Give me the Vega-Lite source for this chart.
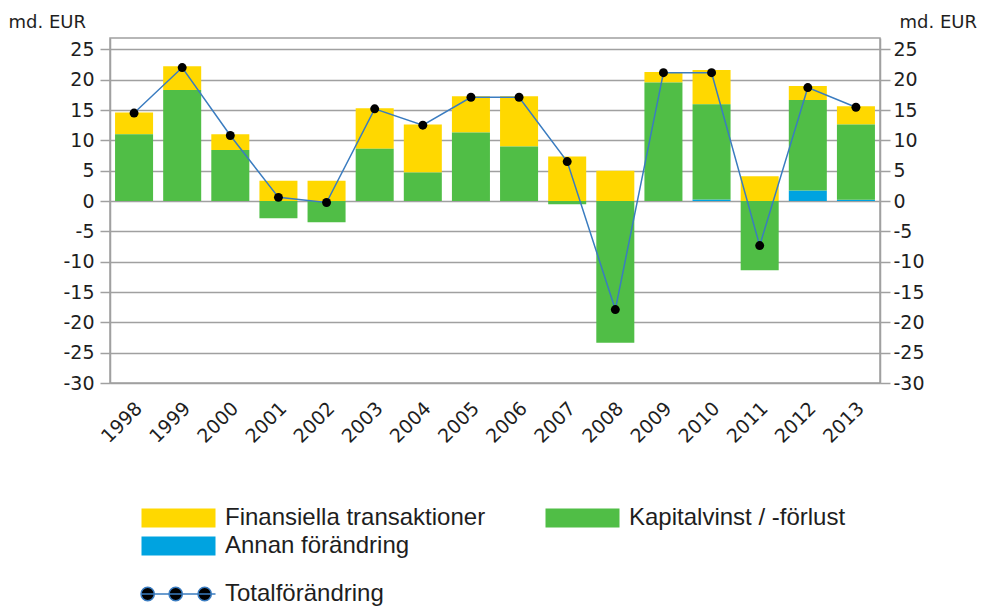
{
  "$schema": "https://vega.github.io/schema/vega-lite/v6.json",
  "width": 770,
  "height": 345,
  "autosize": "none",
  "padding": {"left": 110, "top": 38, "right": 102, "bottom": 223},
  "background": "white",
  "config": {
    "view": {"stroke": "#a0a0a0", "strokeWidth": 1.5},
    "axis": {"labelFont": "DejaVu Sans", "labelFontSize": 19, "labelColor": "#1e1e1e", "titleFont": "DejaVu Sans", "titleFontSize": 18, "titleFontWeight": "normal", "titleColor": "#1e1e1e", "domainColor": "#a0a0a0", "domainWidth": 1.5, "tickColor": "#a0a0a0", "tickWidth": 1.5, "gridColor": "#a0a0a0", "gridWidth": 1.5},
    "legend": {"labelFont": "Liberation Sans", "labelFontSize": 24, "labelColor": "#1e1e1e", "labelLimit": 400, "padding": 0}
  },
  "datasets": {
    "bars": [
      {"year": "1998", "series": "Finansiella transaktioner", "value": 3.6},
      {"year": "1998", "series": "Kapitalvinst / -förlust", "value": 11.0},
      {"year": "1999", "series": "Finansiella transaktioner", "value": 3.9},
      {"year": "1999", "series": "Kapitalvinst / -förlust", "value": 18.3},
      {"year": "2000", "series": "Finansiella transaktioner", "value": 2.6},
      {"year": "2000", "series": "Kapitalvinst / -förlust", "value": 8.4},
      {"year": "2001", "series": "Finansiella transaktioner", "value": 3.35},
      {"year": "2001", "series": "Kapitalvinst / -förlust", "value": -2.85},
      {"year": "2002", "series": "Finansiella transaktioner", "value": 3.35},
      {"year": "2002", "series": "Kapitalvinst / -förlust", "value": -3.5},
      {"year": "2003", "series": "Finansiella transaktioner", "value": 6.7},
      {"year": "2003", "series": "Kapitalvinst / -förlust", "value": 8.6},
      {"year": "2004", "series": "Finansiella transaktioner", "value": 7.9},
      {"year": "2004", "series": "Kapitalvinst / -förlust", "value": 4.7},
      {"year": "2005", "series": "Finansiella transaktioner", "value": 5.95},
      {"year": "2005", "series": "Kapitalvinst / -förlust", "value": 11.3},
      {"year": "2006", "series": "Finansiella transaktioner", "value": 8.25},
      {"year": "2006", "series": "Kapitalvinst / -förlust", "value": 9.0},
      {"year": "2007", "series": "Finansiella transaktioner", "value": 7.35},
      {"year": "2007", "series": "Kapitalvinst / -förlust", "value": -0.55},
      {"year": "2008", "series": "Finansiella transaktioner", "value": 5.0},
      {"year": "2008", "series": "Kapitalvinst / -förlust", "value": -23.35},
      {"year": "2009", "series": "Finansiella transaktioner", "value": 1.7},
      {"year": "2009", "series": "Kapitalvinst / -förlust", "value": 19.55},
      {"year": "2010", "series": "Annan förändring", "value": 0.25},
      {"year": "2010", "series": "Finansiella transaktioner", "value": 5.65},
      {"year": "2010", "series": "Kapitalvinst / -förlust", "value": 15.7},
      {"year": "2011", "series": "Finansiella transaktioner", "value": 4.1},
      {"year": "2011", "series": "Kapitalvinst / -förlust", "value": -11.4},
      {"year": "2012", "series": "Annan förändring", "value": 1.75},
      {"year": "2012", "series": "Finansiella transaktioner", "value": 2.3},
      {"year": "2012", "series": "Kapitalvinst / -förlust", "value": 14.9},
      {"year": "2013", "series": "Annan förändring", "value": 0.2},
      {"year": "2013", "series": "Finansiella transaktioner", "value": 3.0},
      {"year": "2013", "series": "Kapitalvinst / -förlust", "value": 12.4}
    ],
    "total": [
      {"year": "1998", "total": 14.5},
      {"year": "1999", "total": 22.0},
      {"year": "2000", "total": 10.8},
      {"year": "2001", "total": 0.6},
      {"year": "2002", "total": -0.25},
      {"year": "2003", "total": 15.2},
      {"year": "2004", "total": 12.5},
      {"year": "2005", "total": 17.1},
      {"year": "2006", "total": 17.1},
      {"year": "2007", "total": 6.5},
      {"year": "2008", "total": -17.9},
      {"year": "2009", "total": 21.15},
      {"year": "2010", "total": 21.15},
      {"year": "2011", "total": -7.35},
      {"year": "2012", "total": 18.7},
      {"year": "2013", "total": 15.45}
    ]
  },
  "encoding": {
    "x": {"field": "year", "type": "nominal", "sort": null,
      "scale": {"paddingInner": 0.21, "paddingOuter": 0.105},
      "axis": {"title": null, "labelAngle": -45, "labelAlign": "right", "labelBaseline": "middle", "labelPadding": 22, "labelOffset": 5, "ticks": false, "domain": false, "grid": false}}
  },
  "layer": [
    {
      "data": {"name": "bars"},
      "transform": [
        {"calculate": "indexof(['Annan förändring','Kapitalvinst / -förlust','Finansiella transaktioner'], datum.series)", "as": "stackOrder"}
      ],
      "mark": {"type": "bar"},
      "encoding": {
        "y": {"field": "value", "type": "quantitative", "stack": "zero",
          "scale": {"domain": [-30, 26.87], "nice": false, "zero": false},
          "axis": {"orient": "left", "values": [-30, -25, -20, -15, -10, -5, 0, 5, 10, 15, 20, 25], "labelExpr": "'' + datum.value", "tickSize": 10, "labelPadding": 6, "grid": true, "title": "md. EUR", "titleAngle": 0, "titleAlign": "left", "titleBaseline": "alphabetic", "titleX": -102, "titleY": -11}},
        "color": {"field": "series", "type": "nominal",
          "scale": {"domain": ["Finansiella transaktioner", "Kapitalvinst / -förlust", "Annan förändring"], "range": ["#ffd800", "#50be46", "#00a3e0"]},
          "legend": {"title": null, "orient": "none", "legendX": 29, "legendY": 468, "direction": "horizontal", "columns": 2, "columnPadding": 57, "rowPadding": 4, "symbolType": "M-1,-1H6.79V1H-1Z", "symbolSize": 361, "symbolStrokeWidth": 0, "symbolOpacity": 1, "labelOffset": 62}},
        "order": {"field": "stackOrder", "type": "quantitative"}
      }
    },
    {
      "data": {"name": "total"},
      "mark": {"type": "line", "strokeWidth": 1.5},
      "encoding": {
        "y": {"field": "total", "type": "quantitative",
          "scale": {"domain": [-30, 26.87], "nice": false, "zero": false},
          "axis": {"orient": "right", "values": [-30, -25, -20, -15, -10, -5, 0, 5, 10, 15, 20, 25], "labelExpr": "'' + datum.value", "tickSize": 10, "labelPadding": 3, "grid": false, "title": "md. EUR", "titleAngle": 0, "titleAlign": "left", "titleBaseline": "alphabetic", "titleX": 19, "titleY": -11}},
        "stroke": {"datum": "Totalförändring", "scale": {"range": ["#3a7cc0"]},
          "legend": {"title": null, "orient": "none", "legendX": 29, "legendY": 544, "labelOffset": 62, "symbolSize": 361, "symbolType": "M-1.05,0a0.7,0.7 0 1,0 1.4,0a0.7,0.7 0 1,0 -1.4,0M1.9,0a0.7,0.7 0 1,0 1.4,0a0.7,0.7 0 1,0 -1.4,0M4.95,0a0.7,0.7 0 1,0 1.4,0a0.7,0.7 0 1,0 -1.4,0M-1,0H6.79",
            "symbolFillColor": "black", "symbolStrokeWidth": 1.5,
            "encode": {"symbols": {"update": {"fill": {"value": "#000000"}, "fillOpacity": {"value": 1}, "stroke": {"value": "#3a7cc0"}, "strokeWidth": {"value": 1.5}}}}}}
      }
    },
    {
      "data": {"name": "total"},
      "mark": {"type": "point", "filled": true, "color": "black", "size": 80, "opacity": 1},
      "encoding": {
        "y": {"field": "total", "type": "quantitative", "axis": null}
      }
    }
  ],
  "resolve": {"axis": {"y": "independent"}}
}
